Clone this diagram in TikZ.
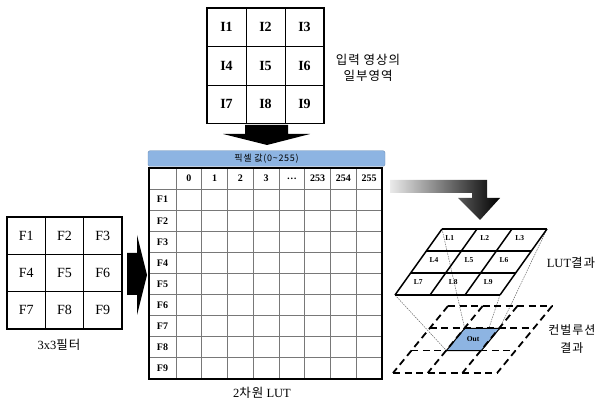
\documentclass[tikz,border=0pt]{standalone}
\usepackage{fontspec}
\setmainfont{Liberation Serif}
\newfontfamily\kofont[LetterSpace=8]{Noto Sans CJK KR}
\usepackage{tikz}
\usetikzlibrary{math, calc}
\definecolor{light}{RGB}{141, 180, 226}
\definecolor{rule}{RGB}{120, 120, 120}

\begin{document}
\begin{tikzpicture}[x=1pt, y=-1pt]
  \useasboundingbox (0, 0) rectangle (598, 403);

  % Input patch
  \begin{scope}[shift={(207, 8)}]
    \foreach \i in {1, 2} {
      \draw[line width=0.8] ({39 * \i}, 0) -- ({39 * \i}, 115.5);
      \draw[line width=0.8] (0, {38.5 * \i}) -- (117, {38.5 * \i});
    }
    \draw[line width=1.8] (0, 0) rectangle (117, 115.5);

    \foreach \n in {1, ..., 9} {
      \pgfmathsetmacro{\col}{mod(\n - 1, 3)};
      \pgfmathsetmacro{\row}{int((\n - 1) / 3)};
      \node[font=\bfseries\fontsize{14}{14}\selectfont] (in\n)
        at ({39 * (\col + 0.5)}, {38.5 * (\row + 0.5)}) {I\n};
    }
  \end{scope}
  \node[font=\kofont\fontsize{12.5}{16.5}\selectfont, align=center] (inlabel)
    at (368, 68) {입력 영상의\\일부영역};

  % Down arrow into the table
  \fill[black] (245, 125) -- (288, 125) -- (288, 134) -- (310, 134)
    -- (267, 145) -- (223, 134) -- (245, 134) -- cycle;

  % Filter
  \begin{scope}[shift={(7, 217)}]
    \foreach \i in {1, 2} {
      \draw[line width=0.8] ({38.3 * \i}, 0) -- ({38.3 * \i}, 112);
      \draw[line width=0.8] (0, {37.3 * \i}) -- (115, {37.3 * \i});
    }
    \draw[line width=1.8] (0, 0) rectangle (115, 112);

    \foreach \n in {1, ..., 9} {
      \pgfmathsetmacro{\col}{mod(\n - 1, 3)};
      \pgfmathsetmacro{\row}{int((\n - 1) / 3)};
      \node[font=\fontsize{14}{14}\selectfont] (f\n)
        at ({38.3 * (\col + 0.5)}, {37.3 * (\row + 0.5)}) {F\n};
    }
  \end{scope}
  \node[font=\fontsize{12.5}{12.5}\selectfont] (flabel) at (59, 345) {3x3{\kofont 필터}};

  % Right arrow into the table
  \fill[black] (127, 253) -- (137, 253) -- (137, 235) -- (147, 275)
    -- (137, 315) -- (137, 295) -- (127, 295) -- cycle;

  % Pixel value header
  \node[fill=light, draw=light!80!black, line width=0.4, rounded corners=2,
        minimum width=237, minimum height=15.5, inner sep=0]
    (header) at (266.5, 158.5)
    {\kofont\fontsize{9}{9}\selectfont 픽셀 값(0\textasciitilde255)};

  % 2D LUT
  \begin{scope}[shift={(149, 168)}]
    \foreach \j in {1, ..., 9} {
      \draw[rule, line width=0.8] (0, {21.1 * \j}) -- (233, {21.1 * \j});
    }
    \foreach \k in {0, ..., 7} {
      \draw[rule, line width=0.8] ({27 + 25.75 * \k}, 0) -- ({27 + 25.75 * \k}, 211);
    }
    \draw[line width=1.8] (0, 0) rectangle (233, 211);

    \foreach \v [count=\k from 0] in {0, 1, 2, 3, \ldots, 253, 254, 255} {
      \node[font=\bfseries\fontsize{10}{10}\selectfont] (px\k)
        at ({27 + 25.75 * (\k + 0.5)}, 10.55) {\v};
    }
    \foreach \n in {1, ..., 9} {
      \node[font=\bfseries\fontsize{10}{10}\selectfont] (fr\n)
        at (13.5, {21.1 * (\n + 0.5)}) {F\n};
    }
  \end{scope}
  \node[font=\fontsize{12.5}{12.5}\selectfont] (lutlabel) at (262, 393) {2{\kofont 차원} LUT};

  % Shaded bent arrow
  \shade[left color=black!8, right color=black] (390, 180) -- (487, 180) -- (487, 198)
    -- (500, 198) -- (480, 220) -- (458, 198) -- (472, 198) -- (472, 193)
    -- (390, 193) -- cycle;

  % Corners of the LUT result and of the output cell
  \coordinate (lut-tl) at (442, 229);
  \coordinate (lut-tr) at (547, 229);
  \coordinate (lut-bl) at (395, 295);
  \coordinate (lut-br) at (500, 295);
  \coordinate (out-tl) at ({448 + 35 - 18.3}, {306 + 22.3});
  \coordinate (out-tr) at ({448 + 70 - 18.3}, {306 + 22.3});
  \coordinate (out-bl) at ({448 + 35 - 36.6}, {306 + 44.6});
  \coordinate (out-br) at ({448 + 70 - 36.6}, {306 + 44.6});

  % Projection lines
  \foreach \c in {tl, tr, bl, br} {
    \draw[black!60, line width=0.5, dash pattern=on 1.5pt off 1pt] (lut-\c) -- (out-\c);
  }

  % Convolution result
  \fill[light] (out-tl) -- (out-tr) -- (out-br) -- (out-bl) -- cycle;
  \foreach \r in {0, 1, 2, 3} {
    \draw[line width=1.8, dash pattern=on 7pt off 4.5pt]
      ({448 - 18.3 * \r}, {306 + 22.3 * \r}) -- ({552 - 18.3 * \r}, {306 + 22.3 * \r});
  }
  \foreach \c in {0, 1, 2, 3} {
    \draw[line width=1.8, dash pattern=on 7pt off 4.5pt]
      ({448 + 34.7 * \c}, 306) -- ({448 + 34.7 * \c - 55}, 373);
  }
  \draw[line width=1] (out-tl) -- (out-tr) -- (out-br) -- (out-bl) -- cycle;
  \node[font=\bfseries\fontsize{7.5}{7.5}\selectfont] (out) at ($(out-tl)!0.5!(out-br)$) {Out};

  % LUT result
  \foreach \r in {0, 1, 2, 3} {
    \draw[line width=1.5] ({442 - 15.67 * \r}, {229 + 22 * \r})
      -- ({547 - 15.67 * \r}, {229 + 22 * \r});
  }
  \foreach \c in {0, 1, 2, 3} {
    \draw[line width=1.5] ({442 + 35 * \c}, 229) -- ({442 + 35 * \c - 47}, 295);
  }
  \foreach \n in {1, ..., 9} {
    \pgfmathsetmacro{\col}{mod(\n - 1, 3)};
    \pgfmathsetmacro{\row}{int((\n - 1) / 3)};
    \node[font=\bfseries\fontsize{7.5}{7.5}\selectfont] (l\n)
      at ({440 + 35 * (\col + 0.5) - 15.67 * (\row + 0.5)}, {227 + 22 * (\row + 0.5)}) {L\n};
  }

  \node[font=\fontsize{12.5}{12.5}\selectfont] (reslabel) at (571, 263) {LUT{\kofont 결과}};
  \node[font=\kofont\fontsize{12}{18}\selectfont, align=center] (convlabel)
    at (572, 339) {컨벌루션\\결과};

\end{tikzpicture}
\end{document}
